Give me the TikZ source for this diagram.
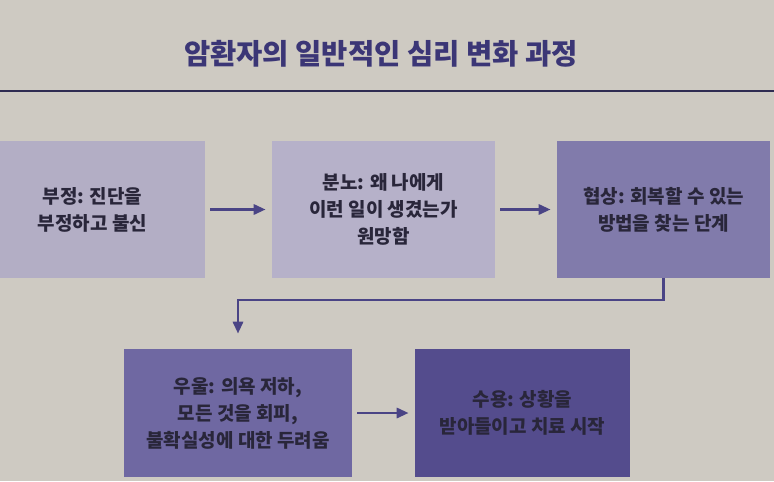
\documentclass[tikz,border=0pt]{standalone}
\usepackage{fontspec}
\setmainfont{Noto Sans CJK KR}
\usepackage{xcolor}
\definecolor{pagegrey}{HTML}{CECAC2}
\definecolor{titleblue}{HTML}{3B3676}
\definecolor{ruleblue}{HTML}{2F2C52}
\definecolor{stageA}{HTML}{B3AEC5}
\definecolor{stageB}{HTML}{B6B1C9}
\definecolor{stageC}{HTML}{817BAB}
\definecolor{stageD}{HTML}{6F68A2}
\definecolor{stageE}{HTML}{544C8D}
\definecolor{flowblue}{HTML}{4A4485}
\definecolor{inktext}{HTML}{29263A}
\usetikzlibrary{arrows.meta,positioning}

\begin{document}
\begin{tikzpicture}[
  x=0.025cm, y=-0.025cm,
  stage/.style={rectangle, draw=none, inner sep=0pt, align=center,
                text=inktext, font=\fontsize{13.5}{19.2}\selectfont\bfseries},
  flow/.style={-{Triangle[length=0.3cm, width=0.25cm]}, line width=2.1pt,
               flowblue, shorten <=0.125cm, shorten >=0.15cm},
]
% ================= page and title
\fill[pagegrey] (0,0) rectangle (774,481);
\useasboundingbox (0,0) rectangle (774,481);
\node[font=\fontsize{20.3}{24}\selectfont\bfseries, text=titleblue] (title) at (381,54)
  {암환자의 일반적인 심리 변화 과정};
\draw[ruleblue, line width=1.3pt] (0,91) -- (774,91);

% ================= first row
\node[stage, fill=stageA, minimum width=5.625cm, minimum height=3.425cm] (denial) at (92.5,209.5)
  {부정: 진단을\\부정하고 불신};
\node[stage, fill=stageB, minimum width=5.575cm, minimum height=3.425cm] (anger) at (383.5,209.5)
  {분노: 왜 나에게\\이런 일이 생겼는가\\원망함};
\node[stage, fill=stageC, minimum width=5.325cm, minimum height=3.425cm] (bargain) at (663.5,209.5)
  {협상: 회복할 수 있는\\방법을 찾는 단계};

% ================= second row
\node[stage, fill=stageD, minimum width=5.7cm, minimum height=3.2cm] (depress) at (238,413)
  {우울: 의욕 저하,\\모든 것을 회피,\\불확실성에 대한 두려움};
\node[stage, fill=stageE, minimum width=5.375cm, minimum height=3.2cm] (accept) at (522.5,413)
  {수용: 상황을\\받아들이고 치료 시작};

% ================= connectors
\coordinate (turn) at (0,300);
\draw[flow] (denial) -- (anger);
\draw[flow] (anger) -- (bargain);
\draw[flow, shorten <=0pt, shorten >=0.375cm] (bargain.south) -- (bargain.south |- turn) -| (depress.north);
\draw[flow] (depress) -- (accept);
\end{tikzpicture}
\end{document}
